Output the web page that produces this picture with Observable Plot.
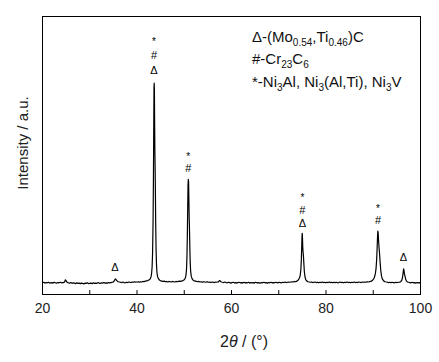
<!DOCTYPE html>
<html>
<head>
<meta charset="utf-8">
<script src="https://cdn.jsdelivr.net/npm/d3@7"></script>
<script src="https://cdn.jsdelivr.net/npm/@observablehq/plot@0.6"></script>
<style>
  html, body { margin: 0; padding: 0; background: #fff; }
  svg { display: block; }
</style>
</head>
<body>
<div id="chart"></div>
<script>
// ---- Data: [2θ (°), intensity (a.u.)] ----
const baseA = [[20,42],[20.25,44],[20.5,41],[20.75,43],[21,42],[21.25,44],[21.5,41],[21.75,42],[22,43],[22.25,41],[22.5,44],[22.75,42],[23,41],[23.25,43],[23.5,42],[23.75,44],[24,42],[24.25,43]];
const bump25 = [[24.5,43],[24.7,46],[24.85,53],[24.95,51],[25.1,46],[25.3,43]];
const baseB = [[25.5,42],[25.75,41],[26,43],[26.25,40],[26.5,42],[26.75,41],[27,39],[27.25,42],[27.5,40],[27.75,41],[28,39],[28.25,41],[28.5,40],[28.75,38],[29,41],[29.25,40],[29.5,42],[29.75,39],[30,40],[30.25,41],[30.5,39],[30.75,42],[31,40],[31.25,41],[31.5,40],[31.75,43],[32,41],[32.25,40],[32.5,42],[32.75,41],[33,43],[33.25,41],[33.5,42],[33.75,41],[34,43],[34.25,42],[34.5,43],[34.75,44]];
const bump35 = [[34.9,44],[35.1,47],[35.3,53],[35.45,56],[35.6,52],[35.8,49],[36,46],[36.25,45]];
const baseC = [[36.5,44],[36.75,43],[37,45],[37.25,43],[37.5,42],[37.75,44],[38,43],[38.25,45],[38.5,44],[38.75,43],[39,45],[39.25,44],[39.5,46],[39.75,44],[40,45],[40.25,46],[40.5,44],[40.75,46],[41,45],[41.25,47],[41.5,46],[41.75,48],[42,49],[42.25,50]];
const peak44 = [[42.5,52],[42.75,55],[42.9,60],[43,66],[43.1,78],[43.2,100],[43.3,150],[43.4,260],[43.48,420],[43.55,620],[43.6,745],[43.64,760],[43.68,740],[43.72,640],[43.78,520],[43.84,450],[43.9,360],[43.96,250],[44.04,160],[44.12,110],[44.22,80],[44.35,65],[44.5,58],[44.75,52],[45,49]];
const baseD = [[45.25,48],[45.5,47],[45.75,48],[46,46],[46.25,47],[46.5,45],[46.75,47],[47,46],[47.25,45],[47.5,47],[47.75,46],[48,45],[48.25,47],[48.5,46],[48.75,47],[49,48],[49.25,47],[49.5,49]];
const peak51 = [[49.75,50],[50,53],[50.2,58],[50.35,68],[50.48,90],[50.58,140],[50.66,220],[50.74,320],[50.8,395],[50.86,414],[50.92,405],[50.98,340],[51.04,280],[51.1,240],[51.17,180],[51.25,120],[51.35,85],[51.48,66],[51.65,57],[51.85,52],[52.1,49]];
const baseE = [[52.35,48],[52.6,47],[52.85,46],[53.1,47],[53.35,45],[53.6,46],[53.85,44],[54.1,46],[54.35,45],[54.6,44],[54.85,46],[55.1,44],[55.35,45],[55.6,43],[55.85,45],[56.1,44],[56.35,43],[56.6,45],[56.85,44],[57,45]];
const bump57 = [[57.2,45],[57.4,49],[57.55,50],[57.7,47],[57.9,45]];
const baseF = [[58.1,44],[58.35,43],[58.6,45],[58.85,43],[59.1,42],[59.35,44],[59.6,43],[59.85,41],[60.1,43],[60.35,44],[60.6,42],[60.85,43],[61.1,41],[61.35,43],[61.6,44],[61.85,42],[62.1,43],[62.35,41],[62.6,44],[62.85,42],[63.1,43],[63.35,42],[63.6,44],[63.85,41],[64.1,43],[64.35,42],[64.6,43],[64.85,41],[65.1,44],[65.35,42],[65.6,43],[65.85,42],[66.1,41],[66.35,43],[66.6,42],[66.85,44],[67.1,42],[67.35,43],[67.6,41],[67.85,43],[68.1,42],[68.35,44],[68.6,42],[68.85,43],[69.1,42],[69.35,44],[69.6,43],[69.85,42],[70.1,44],[70.35,43],[70.6,42],[70.85,44],[71.1,43],[71.35,45],[71.6,43],[71.85,44],[72.1,45],[72.35,44],[72.6,45],[72.85,46],[73.1,45],[73.35,47],[73.55,46]];
const peak75 = [[73.75,47],[74,50],[74.2,54],[74.4,60],[74.55,70],[74.68,90],[74.78,125],[74.86,170],[74.92,210],[74.97,220],[75.02,205],[75.08,170],[75.16,150],[75.24,135],[75.32,110],[75.42,82],[75.55,64],[75.7,54],[75.9,49],[76.2,46]];
const baseG = [[76.45,45],[76.7,44],[76.95,45],[77.2,43],[77.45,44],[77.7,45],[77.95,43],[78.2,44],[78.45,42],[78.7,44],[78.95,43],[79.2,45],[79.45,43],[79.7,44],[79.95,42],[80.2,44],[80.45,43],[80.7,45],[80.95,43],[81.2,44],[81.45,42],[81.7,44],[81.95,43],[82.2,44],[82.45,42],[82.7,43],[82.95,45],[83.2,43],[83.45,44],[83.7,42],[83.95,44],[84.2,43],[84.45,45],[84.7,43],[84.95,44],[85.2,42],[85.45,44],[85.7,43],[85.95,45],[86.2,43],[86.45,44],[86.7,43],[86.95,45],[87.2,44],[87.45,43],[87.7,45],[87.95,44],[88.2,45],[88.45,44],[88.7,46],[88.95,45],[89.2,46]];
const peak91 = [[89.5,47],[89.8,50],[90.05,55],[90.25,62],[90.45,75],[90.6,95],[90.72,125],[90.82,165],[90.9,205],[90.97,228],[91.04,222],[91.12,195],[91.22,170],[91.32,150],[91.44,120],[91.58,88],[91.75,66],[91.95,55],[92.2,49],[92.5,46]];
const baseH = [[92.75,45],[93,44],[93.25,43],[93.5,44],[93.75,42],[94,44],[94.25,43],[94.5,42],[94.75,44],[95,43],[95.3,44]];
const peak96 = [[95.6,44],[95.85,47],[96.05,52],[96.2,62],[96.32,78],[96.42,92],[96.5,88],[96.6,74],[96.72,66],[96.85,56],[97,49],[97.25,45]];
const baseI = [[97.5,44],[97.75,43],[98,42],[98.25,44],[98.5,42],[98.75,43],[99,41],[99.25,43],[99.5,42],[99.75,43],[100,42]];

const pattern = [baseA,bump25,baseB,bump35,baseC,peak44,baseD,peak51,baseE,bump57,baseF,peak75,baseG,peak91,baseH,peak96,baseI]
  .flat().map(([t, i]) => ({t, i}));

// Phase markers above peaks: [2θ, level, symbol]
const markers = [
  [35.35, 97, "Δ"],
  [43.6, 908, "*"], [43.6, 860, "#"], [43.6, 806, "Δ"],
  [50.85, 495, "*"], [50.85, 453, "#"],
  [75.0, 347, "*"], [75.0, 302, "#"], [75.0, 255, "Δ"],
  [91.0, 308, "*"], [91.0, 266, "#"],
  [96.4, 133, "Δ"]
].map(([x, y, s]) => ({x, y, s}));

const majorTicks = [20, 40, 60, 80, 100];
const minorTicks = [30, 50, 70, 90];

const legendLines = [
  [["Δ-(Mo"], ["0.54", true], [",Ti"], ["0.46", true], [")C"]],
  [["#-Cr"], ["23", true], ["C"], ["6", true]],
  [["*-Ni"], ["3", true], ["Al, Ni"], ["3", true], ["(Al,Ti), Ni"], ["3", true], ["V"]]
];

const font = "'Liberation Sans', Arial, Helvetica, sans-serif";

const chart = Plot.plot({
  width: 439,
  height: 362,
  marginLeft: 42,
  marginRight: 19,
  marginTop: 16,
  marginBottom: 68,
  style: {fontFamily: font, background: "white", color: "#111"},
  x: {domain: [20, 100]},
  y: {domain: [0, 1000], axis: null},
  marks: [
    Plot.line(pattern, {x: "t", y: "i", stroke: "black", strokeWidth: 1.2}),
    Plot.ruleX(majorTicks.concat(minorTicks), {x: d => d, y1: 0, y2: 14, stroke: "black"}),
    Plot.axisX({ticks: majorTicks, tickSize: 0, tickPadding: 9, fontSize: 14, label: null, fill: "#222"}),
    Plot.text(markers.filter(d => d.s === "*"), {x: "x", y: "y", text: "s", fontSize: 10, fill: "black"}),
    Plot.text(markers.filter(d => d.s !== "*"), {x: "x", y: "y", text: "s", fontSize: 11, fill: "black"}),
    Plot.frame({stroke: "black"})
  ]
});

document.getElementById("chart").appendChild(chart);

const svg = d3.select(chart);

// x axis label
const xl = svg.append("text")
  .attr("x", 244).attr("y", 347)
  .attr("text-anchor", "middle")
  .attr("font-family", font).attr("font-size", 16).attr("fill", "#222");
xl.append("tspan").text("2");
xl.append("tspan").attr("font-style", "italic").text("θ");
xl.append("tspan").text(" / (°)");

// y axis label
svg.append("text")
  .attr("transform", "translate(28,143) rotate(-90)")
  .attr("text-anchor", "middle")
  .attr("font-family", font).attr("font-size", 15).attr("fill", "#222")
  .text("Intensity / a.u.");

// legend
const legendY = [42, 64, 87];
legendLines.forEach((parts, k) => {
  const t = svg.append("text")
    .attr("x", 252).attr("y", legendY[k])
    .attr("text-anchor", "start")
    .attr("font-family", font).attr("font-size", 15).attr("fill", "#111");
  let shifted = false;
  parts.forEach(([s, sub]) => {
    const sp = t.append("tspan").text(s);
    if (sub && !shifted) { sp.attr("dy", 4).attr("font-size", 10); shifted = true; }
    else if (sub) { sp.attr("font-size", 10); }
    else if (shifted) { sp.attr("dy", -4); shifted = false; }
  });
});
</script>
</body>
</html>
